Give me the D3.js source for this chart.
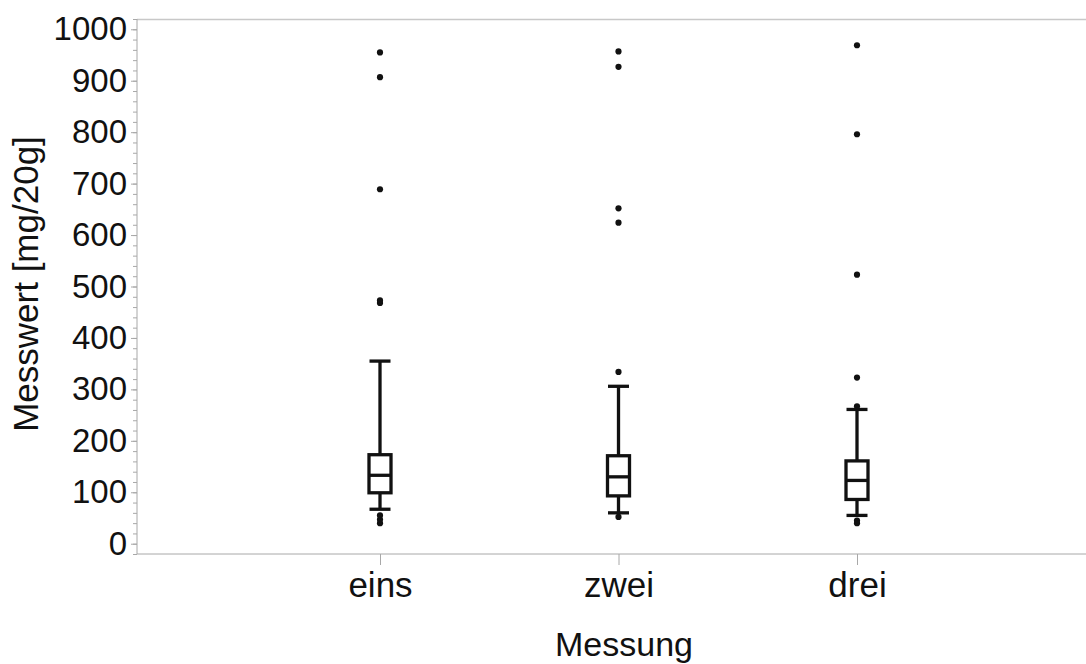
<!DOCTYPE html>
<html>
<head>
<meta charset="utf-8">
<script src="https://cdn.jsdelivr.net/npm/d3@7"></script>
<style>
  html, body { margin: 0; padding: 0; background: #fff; }
  svg { display: block; font-family: "Liberation Sans", Arial, sans-serif; }
</style>
</head>
<body>
<svg id="chart" width="1086" height="664"></svg>
<script>
// Box plot summary per measurement round
const categories   = ["eins", "zwei", "drei"];
const whiskerLow   = [67, 60, 55];
const q1           = [99, 93, 86];
const median       = [133, 130, 123];
const q3           = [173, 171, 161];
const whiskerHigh  = [355, 306, 261];
const outliers     = [
  [40, 47, 55, 468, 473, 689, 907, 955],
  [52, 334, 624, 652, 927, 957],
  [40, 45, 267, 323, 523, 796, 969]
];
const yTicks = [0, 100, 200, 300, 400, 500, 600, 700, 800, 900, 1000];
const yMinorTicks = d3.range(-20, 1021, 20);

const svg = d3.select("#chart");
const plotLeft = 137, plotRight = 1086, plotTop = 19, plotBottom = 554;

const y = d3.scaleLinear().domain([-20, 1020]).range([plotBottom, plotTop]);
const x = d3.scalePoint().domain(categories).range([380, 857]);

const axisGray = "#a8a8a8";
const ink = "#111";

// frame: top line
svg.append("line").attr("x1", plotLeft).attr("x2", plotRight)
  .attr("y1", plotTop + 0.5).attr("y2", plotTop + 0.5)
  .attr("stroke", "#c8c8c8").attr("stroke-width", 1.5);

// y axis: minor ticks first, then major ticks with labels
const yMinor = svg.append("g").attr("transform", `translate(${plotLeft},0)`)
  .call(d3.axisLeft(y).tickValues(yMinorTicks).tickSize(4).tickFormat(""));
yMinor.select(".domain").remove();
yMinor.selectAll("line").attr("stroke", axisGray);

const yAxis = svg.append("g").attr("transform", `translate(${plotLeft},0)`)
  .call(d3.axisLeft(y).tickValues(yTicks).tickSize(6).tickPadding(4).tickFormat(d3.format("d")));
yAxis.select(".domain").attr("stroke", axisGray).attr("d", `M0,${plotTop}V${plotBottom}`);
yAxis.selectAll("line").attr("stroke", axisGray);
yAxis.selectAll("text").attr("fill", ink).style("font-size", "33px")
  .style("font-family", "'Liberation Sans', Arial, sans-serif");

// x axis
const xAxis = svg.append("g").attr("transform", `translate(0,${plotBottom})`)
  .call(d3.axisBottom(x).tickSize(11).tickPadding(7));
xAxis.select(".domain").attr("stroke", axisGray).attr("d", `M${plotLeft},0H${plotRight}`);
xAxis.selectAll("line").attr("stroke", axisGray);
xAxis.selectAll("text").attr("fill", ink).style("font-size", "35px")
  .style("font-family", "'Liberation Sans', Arial, sans-serif");

// axis titles
svg.append("text").attr("x", 624).attr("y", 656).attr("text-anchor", "middle")
  .attr("fill", ink).style("font-size", "34px").text("Messung");
svg.append("text").attr("transform", "translate(38,284) rotate(-90)").attr("text-anchor", "middle")
  .attr("fill", ink).style("font-size", "35px").text("Messwert [mg/20g]");

// boxes
const boxW = 22, capW = 21, lw = 3.3;
const plot = svg.append("g");
categories.forEach((c, i) => {
  const cx = x(c);
  const g = plot.append("g").attr("stroke", ink).attr("stroke-width", lw).attr("fill", "none");
  // whiskers
  g.append("line").attr("x1", cx).attr("x2", cx).attr("y1", y(whiskerHigh[i])).attr("y2", y(q3[i]));
  g.append("line").attr("x1", cx).attr("x2", cx).attr("y1", y(q1[i])).attr("y2", y(whiskerLow[i]));
  g.append("line").attr("x1", cx - capW / 2).attr("x2", cx + capW / 2)
    .attr("y1", y(whiskerHigh[i])).attr("y2", y(whiskerHigh[i]));
  g.append("line").attr("x1", cx - capW / 2).attr("x2", cx + capW / 2)
    .attr("y1", y(whiskerLow[i])).attr("y2", y(whiskerLow[i]));
  // box and median
  g.append("rect").attr("x", cx - boxW / 2).attr("width", boxW)
    .attr("y", y(q3[i])).attr("height", y(q1[i]) - y(q3[i])).attr("fill", "#fff");
  g.append("line").attr("x1", cx - boxW / 2).attr("x2", cx + boxW / 2)
    .attr("y1", y(median[i])).attr("y2", y(median[i]));
  // outliers
  plot.selectAll(null).data(outliers[i]).enter().append("circle")
    .attr("cx", cx).attr("cy", d => y(d)).attr("r", 3.1).attr("fill", ink);
});
</script>
</body>
</html>
